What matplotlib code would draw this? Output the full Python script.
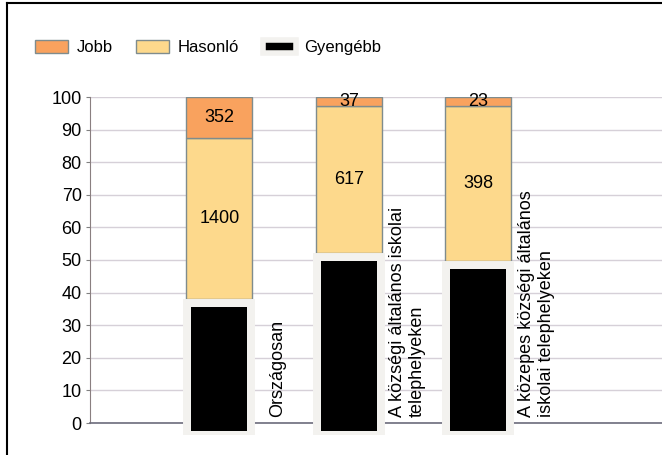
import numpy as np
import matplotlib
matplotlib.use("Agg")
import matplotlib.pyplot as plt
import matplotlib.patheffects as pe
from matplotlib.transforms import offset_copy
from matplotlib.lines import Line2D
from matplotlib.patches import Patch

# data (counts per category)
categories = ["Országosan",
              "A községi általános iskolai\ntelephelyeken",
              "A közepes községi általános\niskolai telephelyeken"]
jobb = [352, 37, 23]
hasonlo = [1400, 617, 398]
gyengebb = [1080, 716, 415]
series_names = ["Jobb", "Hasonló", "Gyengébb"]
yticks = [0, 10, 20, 30, 40, 50, 60, 70, 80, 90, 100]

plt.rcParams['font.family'] = ['Liberation Sans', 'DejaVu Sans']

# convert to percent of each category total (100% stacked)
counts = np.array([gyengebb, hasonlo, jobb], dtype=float)
pct = counts / counts.sum(axis=0) * 100
gy_pct, has_pct, jobb_pct = pct

fig = plt.figure(figsize=(6.62, 4.55), dpi=100)
ax = fig.add_axes([90 / 662, 32 / 455, 572 / 662, 326 / 455])

x = np.arange(len(categories))

# black bottom bars sit in a light shadowed frame, drawn a few pixels lower
frame_shift = offset_copy(ax.transData, fig=fig, x=0, y=-6, units='dots')
black_shift = offset_copy(ax.transData, fig=fig, x=0, y=-8, units='dots')
frames = ax.bar(x, gy_pct, width=0.463, color='#f3f2ef', edgecolor='#f3f2ef',
                linewidth=8.6, zorder=3)
for p in frames:
    p.set_transform(frame_shift)
    p.set_clip_on(False)
    p.set_path_effects([pe.SimplePatchShadow(offset=(2, -3), shadow_rgbFace='#dcdcdc', alpha=1),
                        pe.Normal()])
b_gy = ax.bar(x, gy_pct, width=0.432, color='black', linewidth=0, zorder=4)
for p in b_gy:
    p.set_transform(black_shift)
    p.set_clip_on(False)

b_has = ax.bar(x, has_pct, width=0.51, bottom=gy_pct, color='#fdd98c',
               edgecolor='#7f8c8d', linewidth=1, zorder=2)
b_jobb = ax.bar(x, jobb_pct, width=0.51, bottom=gy_pct + has_pct, color='#f9a25e',
                edgecolor='#7f8c8d', linewidth=1, zorder=2)

ax.bar_label(b_has, labels=[str(v) for v in hasonlo], label_type='center', fontsize=13)
ax.bar_label(b_jobb, labels=[str(v) for v in jobb], label_type='center', fontsize=13)

# rotated category labels to the right of each bar
for i, cat in enumerate(categories):
    ax.annotate(cat, xy=(x[i] + 0.45, 0), xytext=(0, 6), textcoords='offset pixels',
                rotation=90, ha='center', va='bottom', multialignment='left',
                fontsize=13, annotation_clip=False)

ax.set_xlim(-1.0, 3.42)
ax.set_ylim(0, 100)
ax.set_yticks(yticks)
ax.set_xticks([])
ax.tick_params(axis='y', labelsize=13, length=3, color='#808080', pad=3)
ax.yaxis.grid(True, color='#d6d0d8', linewidth=1)
ax.set_axisbelow(True)
for s in ['top', 'right']:
    ax.spines[s].set_visible(False)
ax.spines['left'].set_color('#8a7f80')
ax.spines['bottom'].set_color('#6c6c7c')
ax.spines['bottom'].set_linewidth(1.2)

# legend across the top
handles = [Patch(facecolor='#f9a25e', edgecolor='#7f8c8d', linewidth=1),
           Patch(facecolor='#fdd98c', edgecolor='#7f8c8d', linewidth=1),
           Patch(facecolor='black', edgecolor='#f3f2ef', linewidth=4)]
fig.legend(handles=handles, labels=series_names, loc='upper left',
           bbox_to_anchor=(35 / 662, 1 - 40 / 455), ncol=3, frameon=False,
           fontsize=12, handlelength=2.0, handleheight=0.85, handletextpad=0.5,
           columnspacing=1.4, borderpad=0, borderaxespad=0)

# outer chart frame (left and top edges visible)
fig.add_artist(Line2D([7 / 662, 7 / 662], [0, 1 - 3 / 455], transform=fig.transFigure,
                      color='black', linewidth=1.5))
fig.add_artist(Line2D([7 / 662, 1], [1 - 3 / 455, 1 - 3 / 455], transform=fig.transFigure,
                      color='black', linewidth=1.5))

fig.savefig("out.png", dpi=100)
